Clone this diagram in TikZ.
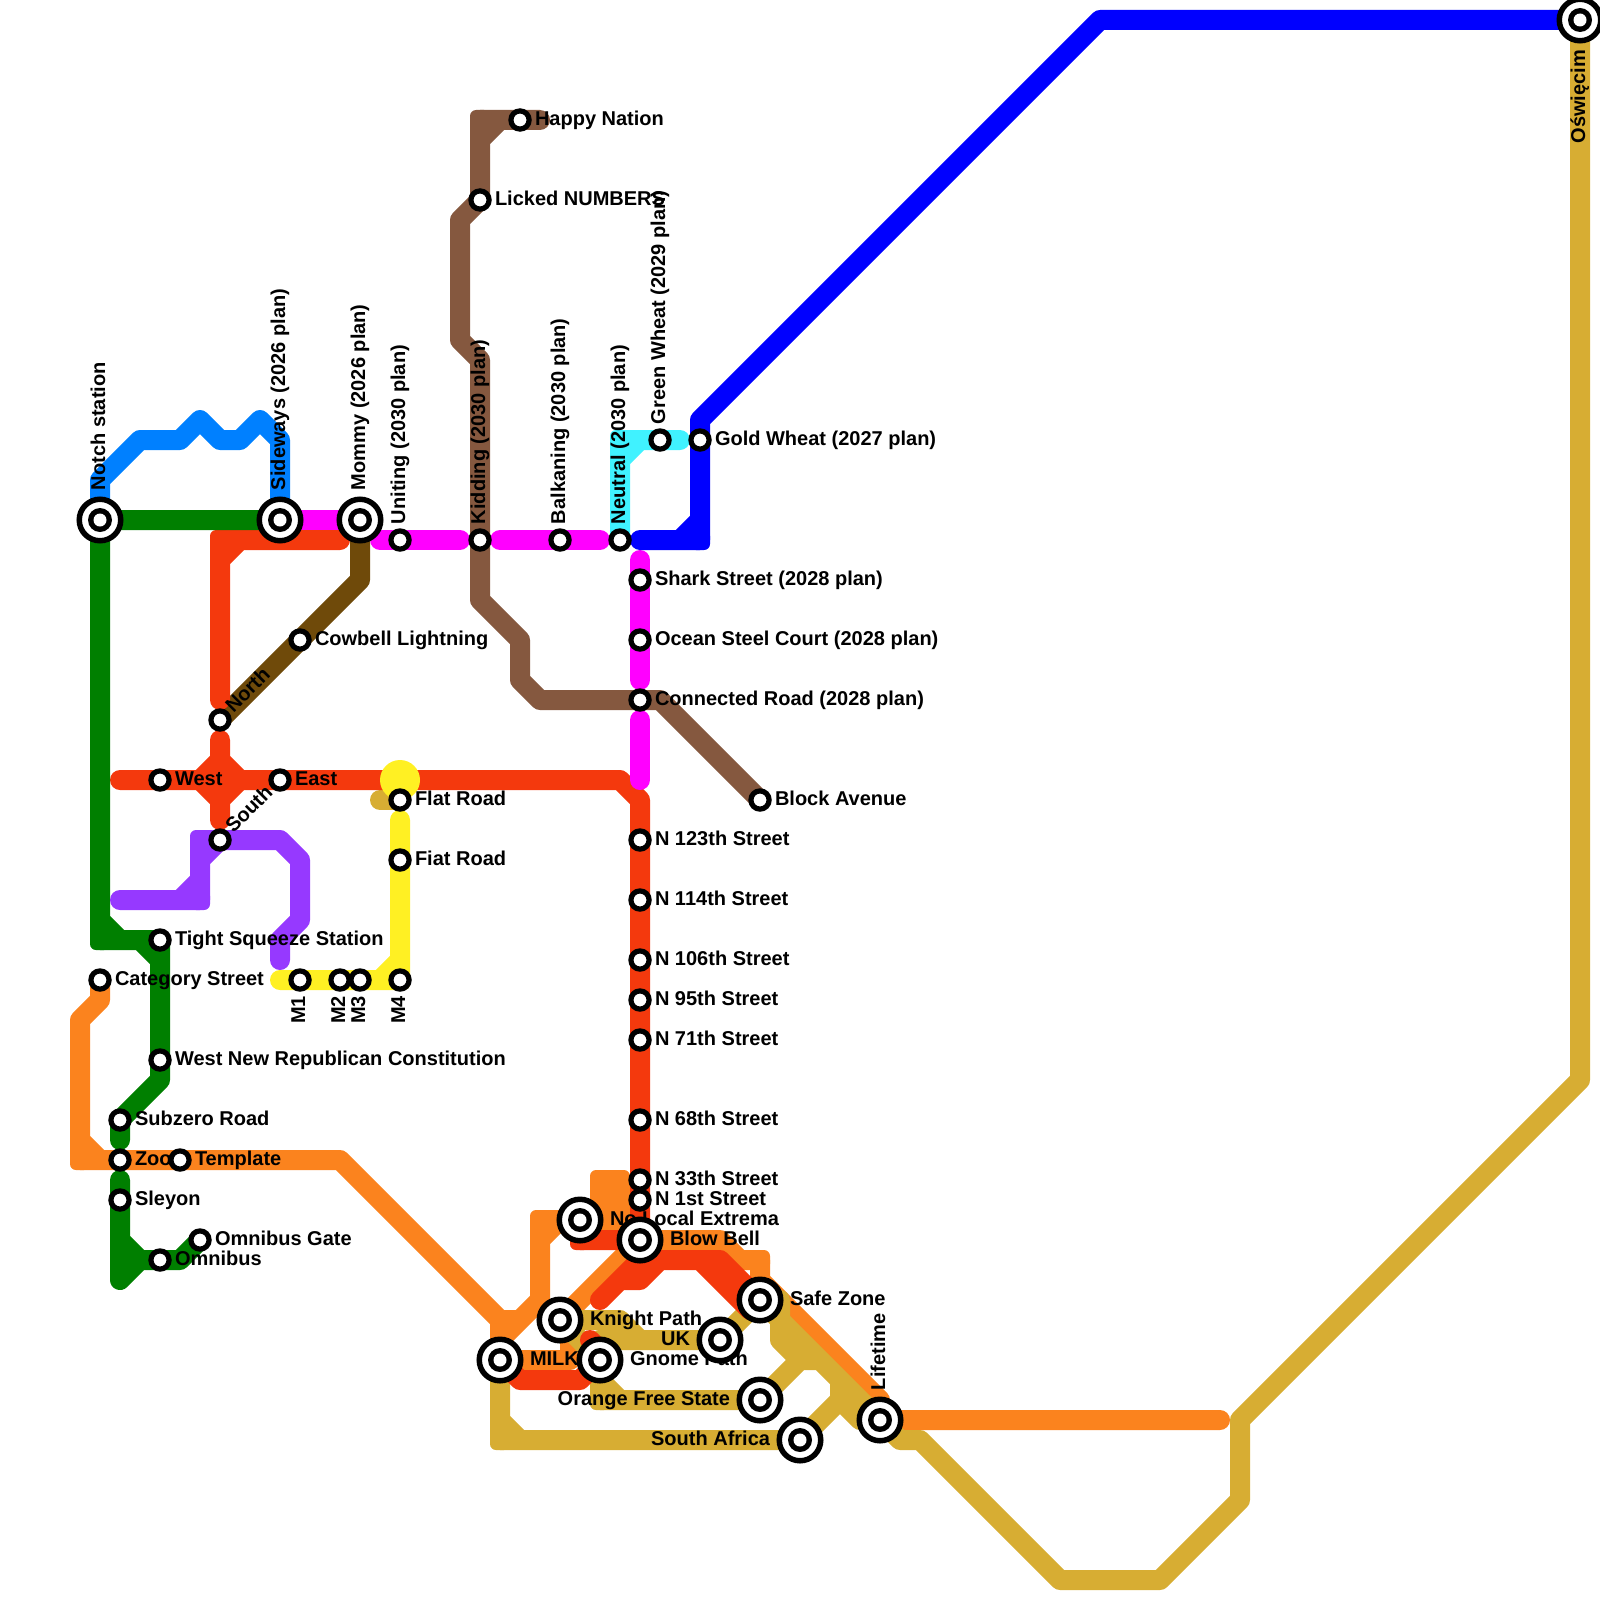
\documentclass[tikz,border=0pt]{standalone}
\usepackage{fontspec}
\setmainfont{Liberation Sans}
\pgfdeclarelayer{lines}
\pgfdeclarelayer{labels}
\pgfsetlayers{lines,labels,main}
\definecolor{cRed}{HTML}{F4390D}
\definecolor{cOrange}{HTML}{FB831E}
\definecolor{cGold}{HTML}{D7AD33}
\definecolor{cGreen}{HTML}{007F00}
\definecolor{cAzure}{HTML}{0080FF}
\definecolor{cBlue}{HTML}{0000FF}
\definecolor{cMagenta}{HTML}{FF00FF}
\definecolor{cCyan}{HTML}{40F2FF}
\definecolor{cPurple}{HTML}{9639FF}
\definecolor{cBrown}{HTML}{85583F}
\definecolor{cDark}{HTML}{6F4A0A}
\definecolor{cYellow}{HTML}{FFF023}
\newcommand{\cornerpatch}[3]{\fill[#1,rounded corners=3pt] ({#2-10},{#3-10}) rectangle ({#2+10},{#3+10});}
\tikzset{
  route/.style={line width=10pt,line cap=round,line join=round},
  smallst/.style={circle,draw=black,fill=white,line width=2.6pt,minimum size=9.1pt,inner sep=0pt,outer sep=0pt},
  bigst/.style={circle,draw=black,fill=white,line width=2.75pt,minimum size=20.75pt,inner sep=0pt,outer sep=0pt,
    path picture={\fill[black] (path picture bounding box.center) circle (6pt);
                  \fill[white] (path picture bounding box.center) circle (3.25pt);}},
  lab/.style={font=\bfseries\fontsize{10}{12}\selectfont,text=black,inner sep=0pt,outer sep=0pt,text height=7.2pt,text depth=2pt},
  labR/.style={lab,anchor=west,xshift=7.5pt},
  labBR/.style={lab,anchor=west,xshift=15pt},
  labBL/.style={lab,anchor=east,xshift=-15pt},
  labU/.style={lab,anchor=west,rotate=90,xshift=8pt},
  labBU/.style={lab,anchor=west,rotate=90,xshift=15pt},
  labD/.style={lab,anchor=east,rotate=90,xshift=-8pt},
  labBD/.style={lab,anchor=east,rotate=90,xshift=-15pt},
  labD45/.style={lab,anchor=west,rotate=45,xshift=7pt},
}
\begin{document}
\begin{tikzpicture}[x=0.5pt,y=-0.5pt]
\useasboundingbox (0,0) rectangle (1600,1600);
% stations
\node[bigst] (sNotch) at (100,520) {};
\node[bigst] (sSideways) at (280,520) {};
\node[bigst] (sMommy) at (360,520) {};
\node[smallst] (sUniting) at (400,540) {};
\node[smallst] (sKidding) at (480,540) {};
\node[smallst] (sBalkaning) at (560,540) {};
\node[smallst] (sNeutral) at (620,540) {};
\node[smallst] (sGreenW) at (660,440) {};
\node[smallst] (sGoldW) at (700,440) {};
\node[smallst] (sShark) at (640,580) {};
\node[smallst] (sOcean) at (640,640) {};
\node[smallst] (sConnected) at (640,700) {};
\node[smallst] (sBlock) at (760,800) {};
\node[smallst] (sN123) at (640,840) {};
\node[smallst] (sN114) at (640,900) {};
\node[smallst] (sN106) at (640,960) {};
\node[smallst] (sN95) at (640,1000) {};
\node[smallst] (sN71) at (640,1040) {};
\node[smallst] (sN68) at (640,1120) {};
\node[smallst] (sN33) at (640,1180) {};
\node[smallst] (sN1) at (640,1200) {};
\node[bigst] (sBlow) at (640,1240) {};
\node[bigst] (sNoLocal) at (580,1220) {};
\node[bigst] (sSafe) at (760,1300) {};
\node[bigst] (sKnight) at (560,1320) {};
\node[bigst] (sUK) at (720,1340) {};
\node[bigst] (sGnome) at (600,1360) {};
\node[bigst] (sMilk) at (500,1360) {};
\node[bigst] (sOrangeFS) at (760,1400) {};
\node[bigst] (sSouthAf) at (800,1440) {};
\node[bigst] (sLifetime) at (880,1420) {};
\node[bigst] (sOsw) at (1580,20) {};
\node[smallst] (sHappy) at (520,120) {};
\node[smallst] (sLicked) at (480,200) {};
\node[smallst] (sCowbell) at (300,640) {};
\node[smallst] (sNorth) at (220,720) {};
\node[smallst] (sWest) at (160,780) {};
\node[smallst] (sEast) at (280,780) {};
\node[smallst] (sSouth) at (220,840) {};
\node[smallst] (sFlat) at (400,800) {};
\node[smallst] (sFiat) at (400,860) {};
\node[smallst] (sM1) at (300,980) {};
\node[smallst] (sM2) at (340,980) {};
\node[smallst] (sM3) at (360,980) {};
\node[smallst] (sM4) at (400,980) {};
\node[smallst] (sTight) at (160,940) {};
\node[smallst] (sCategory) at (100,980) {};
\node[smallst] (sWNR) at (160,1060) {};
\node[smallst] (sSubzero) at (120,1120) {};
\node[smallst] (sZoo) at (120,1160) {};
\node[smallst] (sTemplate) at (180,1160) {};
\node[smallst] (sSleyon) at (120,1200) {};
\node[smallst] (sOGate) at (200,1240) {};
\node[smallst] (sOmnibus) at (160,1260) {};
\begin{pgfonlayer}{lines}
% orange
\draw[route,cOrange] (sCategory.center) -- (100,1000) -- (80,1020) -- (80,1160) -- (340,1160) -- (500,1320) -- (sMilk.center) -- (570,1360) -- (570,1340)
  (80,1140) -- (100,1160)
  (500,1340) -- (520,1320) -- (540,1300) -- (540,1220) -- (600,1220) -- (600,1180) -- (620,1180) -- (620,1220) -- (sBlow.center)
  (500,1320) -- (520,1320)
  (540,1240) -- (560,1220)
  (600,1220) -- (620,1220)
  (sKnight.center) -- (sBlow.center) -- (720,1240) -- (740,1260) -- (760,1260) -- (760,1280) -- (880,1400) -- (sLifetime.center) -- (1220,1420);
\cornerpatch{cOrange}{80}{1160}
\cornerpatch{cOrange}{540}{1220}
\cornerpatch{cOrange}{600}{1180}
\cornerpatch{cOrange}{620}{1180}
\cornerpatch{cOrange}{760}{1260}
% gold
\draw[route,cGold] (sOsw.center) -- (1580,1080) -- (1240,1420) -- (1240,1500) -- (1160,1580) -- (1060,1580) -- (920,1440) -- (900,1440) -- (sLifetime.center) -- (sSafe.center)
  (780,1300) -- (780,1340) -- (800,1360) -- (820,1360) -- (840,1380) -- (840,1400) -- (860,1420) -- (sLifetime.center)
  (sMilk.center) -- (500,1440) -- (sSouthAf.center) -- (840,1400)
  (800,1360) -- (sOrangeFS.center) -- (600,1400) -- (sGnome.center) -- (sKnight.center) -- (620,1320) -- (640,1340) -- (sUK.center) -- (sSafe.center)
  (500,1420) -- (520,1440)
  (600,1380) -- (620,1400)
  (600,1340) -- (640,1340);
\cornerpatch{cGold}{500}{1440}
\cornerpatch{cGold}{600}{1400}
\draw[route,cGold] (380,800) -- (sFlat.center);
% dark brown
\draw[route,cDark] (sMommy.center) -- (360,580) -- (sNorth.center);
% brown
\draw[route,cBrown] (540,120) -- (480,120) -- (sLicked.center) -- (460,220) -- (460,340) -- (480,360) -- (sKidding.center) -- (480,600) -- (520,640) -- (520,680) -- (540,700) -- (sConnected.center) -- (660,700) -- (sBlock.center)
  (480,140) -- (500,120);
\cornerpatch{cBrown}{480}{120}
% red
\draw[route,cRed] (220,700) -- (220,540) -- (340,540)
  (220,560) -- (240,540);
\cornerpatch{cRed}{220}{540}
\draw[route,cRed] (120,780) -- (620,780) -- (640,800) -- (sBlow.center) -- (640,1260) -- (660,1260) -- (720,1260) -- (sSafe.center)
  (700,1260) -- (750,1310)
  (600,1300) -- (640,1260)
  (620,1280) -- (640,1280) -- (660,1260)
  (sNoLocal.center) -- (580,1240) -- (sBlow.center)
  (sMilk.center) -- (520,1380) -- (580,1380) -- (sGnome.center)
  (590,1340) -- (600,1350);
\cornerpatch{cRed}{580}{1240}
\draw[route,cRed] (220,740) -- (220,820)
  (200,780) -- (220,760) -- (240,780) -- (220,800) -- cycle;
% magenta
\draw[route,cMagenta] (sSideways.center) -- (sMommy.center);
\draw[route,cMagenta] (380,540) -- (460,540);
\draw[route,cMagenta] (500,540) -- (600,540);
\draw[route,cMagenta] (640,560) -- (640,680);
\draw[route,cMagenta] (640,720) -- (640,780);
% cyan
\draw[route,cCyan] (sNeutral.center) -- (620,440) -- (680,440)
  (620,460) -- (640,440);
\cornerpatch{cCyan}{620}{440}
% blue
\draw[route,cBlue] (640,540) -- (700,540) -- (700,420) -- (1100,20) -- (sOsw.center)
  (680,540) -- (700,520);
\cornerpatch{cBlue}{700}{540}
% azure
\draw[route,cAzure] (sNotch.center) -- (100,480) -- (140,440) -- (180,440) -- (200,420) -- (220,440) -- (240,440) -- (260,420) -- (280,440) -- (sSideways.center);
% green
\draw[route,cGreen] (sSideways.center) -- (sNotch.center) -- (100,940) -- (sTight.center) -- (sWNR.center) -- (160,1080) -- (sSubzero.center) -- (120,1140)
  (100,920) -- (120,940)
  (140,940) -- (160,960);
\cornerpatch{cGreen}{100}{940}
\draw[route,cGreen] (120,1180) -- (120,1280) -- (140,1260) -- (sOmnibus.center) -- (180,1260) -- (sOGate.center)
  (120,1240) -- (140,1260);
% purple
\draw[route,cPurple] (120,900) -- (200,900) -- (200,840) -- (280,840) -- (300,860) -- (300,920) -- (280,940) -- (280,960)
  (180,900) -- (200,880)
  (200,860) -- (220,840);
\cornerpatch{cPurple}{200}{900}
\cornerpatch{cPurple}{200}{840}
% yellow
\draw[route,cYellow] (280,980) -- (sM4.center) -- (sFiat.center) -- (400,820)
  (380,980) -- (400,960);
\cornerpatch{cYellow}{400}{980}
\fill[cYellow] (400,780) circle (10pt);
\end{pgfonlayer}
\begin{pgfonlayer}{labels}
\node[labBU] (lNotch) at (sNotch.center) {Notch station};
\node[labBU] (lSideways) at (sSideways.center) {Sideways (2026 plan)};
\node[labBU] (lMommy) at (sMommy.center) {Mommy (2026 plan)};
\node[labU] (lUniting) at (sUniting.center) {Uniting (2030 plan)};
\node[labU] (lKidding) at (sKidding.center) {Kidding (2030 plan)};
\node[labU] (lBalkaning) at (sBalkaning.center) {Balkaning (2030 plan)};
\node[labU] (lNeutral) at (sNeutral.center) {Neutral (2030 plan)};
\node[labU] (lGreenW) at (sGreenW.center) {Green Wheat (2029 plan)};
\node[labR] (lGoldW) at (sGoldW.center) {Gold Wheat (2027 plan)};
\node[labR] (lShark) at (sShark.center) {Shark Street (2028 plan)};
\node[labR] (lOcean) at (sOcean.center) {Ocean Steel Court (2028 plan)};
\node[labR] (lConnected) at (sConnected.center) {Connected Road (2028 plan)};
\node[labR] (lBlock) at (sBlock.center) {Block Avenue};
\node[labR] (lN123) at (sN123.center) {N 123th Street};
\node[labR] (lN114) at (sN114.center) {N 114th Street};
\node[labR] (lN106) at (sN106.center) {N 106th Street};
\node[labR] (lN95) at (sN95.center) {N 95th Street};
\node[labR] (lN71) at (sN71.center) {N 71th Street};
\node[labR] (lN68) at (sN68.center) {N 68th Street};
\node[labR] (lN33) at (sN33.center) {N 33th Street};
\node[labR] (lN1) at (sN1.center) {N 1st Street};
\node[labBR] (lBlow) at (sBlow.center) {Blow Bell};
\node[labBR] (lNoLocal) at (sNoLocal.center) {No Local Extrema};
\node[labBR] (lSafe) at (sSafe.center) {Safe Zone};
\node[labBR] (lKnight) at (sKnight.center) {Knight Path};
\node[labBL] (lUK) at (sUK.center) {UK};
\node[labBR] (lGnome) at (sGnome.center) {Gnome Path};
\node[labBR] (lMilk) at (sMilk.center) {MILK};
\node[labBL] (lOrangeFS) at (sOrangeFS.center) {Orange Free State};
\node[labBL] (lSouthAf) at (sSouthAf.center) {South Africa};
\node[labBU] (lLifetime) at (sLifetime.center) {Lifetime};
\node[labBD] (lOsw) at (sOsw.center) {Oświęcim};
\node[labR] (lHappy) at (sHappy.center) {Happy Nation};
\node[labR] (lLicked) at (sLicked.center) {Licked NUMBERS};
\node[labR] (lCowbell) at (sCowbell.center) {Cowbell Lightning};
\node[labD45] (lNorth) at (sNorth.center) {North};
\node[labR] (lWest) at (sWest.center) {West};
\node[labR] (lEast) at (sEast.center) {East};
\node[labD45] (lSouth) at (sSouth.center) {South};
\node[labR] (lFlat) at (sFlat.center) {Flat Road};
\node[labR] (lFiat) at (sFiat.center) {Fiat Road};
\node[labD] (lM1) at (sM1.center) {M1};
\node[labD] (lM2) at (sM2.center) {M2};
\node[labD] (lM3) at (sM3.center) {M3};
\node[labD] (lM4) at (sM4.center) {M4};
\node[labR] (lTight) at (sTight.center) {Tight Squeeze Station};
\node[labR] (lCategory) at (sCategory.center) {Category Street};
\node[labR] (lWNR) at (sWNR.center) {West New Republican Constitution};
\node[labR] (lSubzero) at (sSubzero.center) {Subzero Road};
\node[labR] (lZoo) at (sZoo.center) {Zoo};
\node[labR] (lTemplate) at (sTemplate.center) {Template};
\node[labR] (lSleyon) at (sSleyon.center) {Sleyon};
\node[labR] (lOGate) at (sOGate.center) {Omnibus Gate};
\node[labR] (lOmnibus) at (sOmnibus.center) {Omnibus};
\end{pgfonlayer}
\end{tikzpicture}
\end{document}
